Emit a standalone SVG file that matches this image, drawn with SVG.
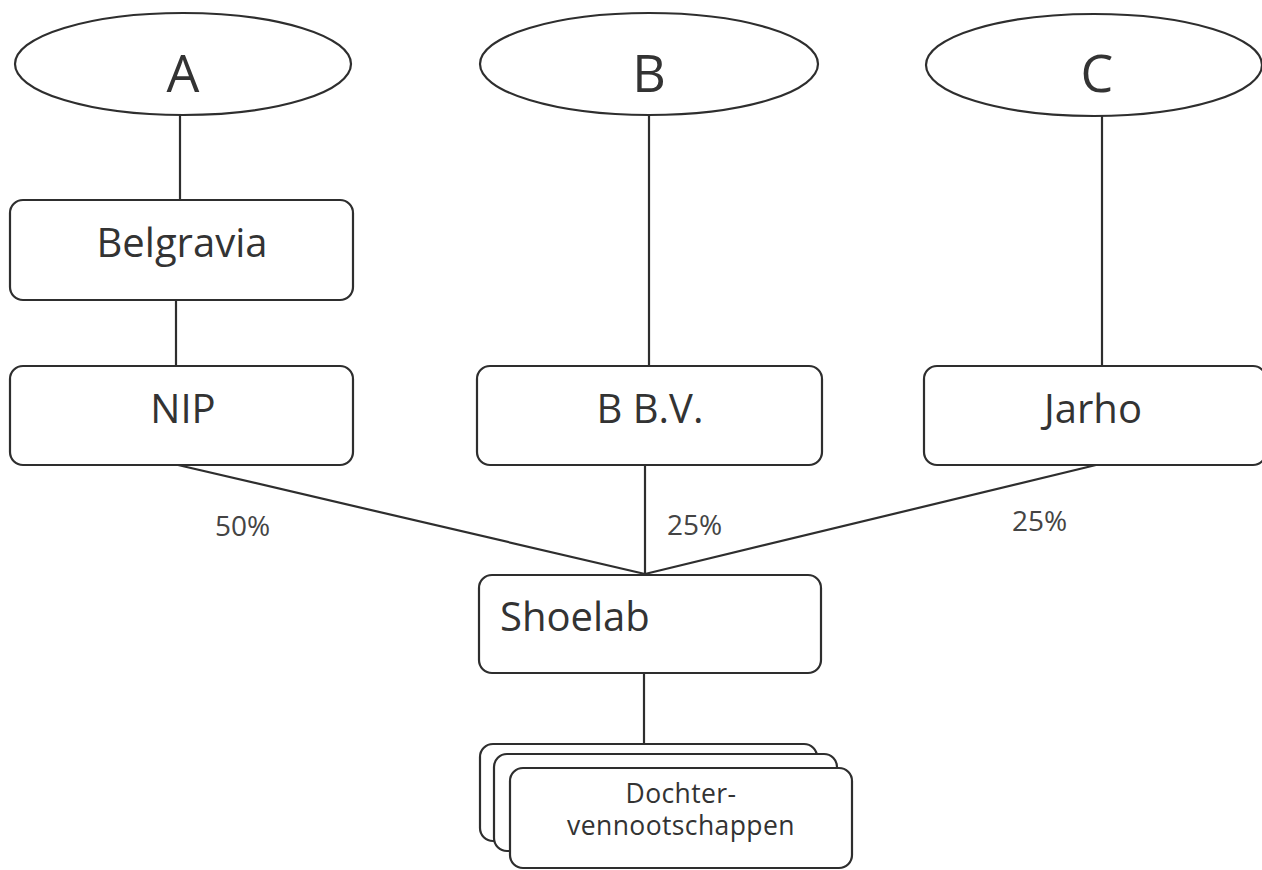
<svg xmlns="http://www.w3.org/2000/svg" width="1262" height="870" viewBox="0 0 1262 870">
<style>
.shape{fill:#fff;stroke:#2e2e2e;stroke-width:2.2}
.conn line{stroke:#2e2e2e;stroke-width:2.2}
text{font-family:"Open Sans","Liberation Sans",sans-serif;fill:#333}
.big{font-size:52px;text-anchor:middle}
.lbl{font-size:40px;text-anchor:middle}
.left{text-anchor:start}
.pct{font-size:28px;fill:#444}
.small{font-size:26.5px;text-anchor:middle;letter-spacing:0.4px}
</style>
<rect width="1262" height="870" fill="#fff"/>
<g class="conn">
<line x1="180" y1="115" x2="180" y2="200"/>
<line x1="176" y1="300" x2="176" y2="366"/>
<line x1="649" y1="115" x2="649" y2="366"/>
<line x1="1102" y1="116" x2="1102" y2="366"/>
<line x1="178" y1="465" x2="645" y2="574"/>
<line x1="645" y1="465" x2="645" y2="574"/>
<line x1="1096" y1="465" x2="645" y2="574"/>
<line x1="644" y1="673" x2="644" y2="744"/>
</g>
<g id="nodeA"><ellipse class="shape" cx="183" cy="64" rx="168" ry="51"/><text class="big" x="183" y="92">A</text></g>
<g id="nodeB"><ellipse class="shape" cx="649" cy="64" rx="169" ry="51"/><text class="big" x="649" y="92">B</text></g>
<g id="nodeC"><ellipse class="shape" cx="1094" cy="65" rx="168" ry="51"/><text class="big" x="1097" y="92">C</text></g>
<g id="belgravia"><rect class="shape" x="10" y="200" width="343" height="100" rx="13"/><text class="lbl" x="182" y="257">Belgravia</text></g>
<g id="nip"><rect class="shape" x="10" y="366" width="343" height="99" rx="13"/><text class="lbl" x="183" y="423">NIP</text></g>
<g id="bbv"><rect class="shape" x="477" y="366" width="345" height="99" rx="13"/><text class="lbl" x="650" y="423">B B.V.</text></g>
<g id="jarho"><rect class="shape" x="924" y="366" width="342" height="99" rx="13"/><text class="lbl" x="1093" y="423">Jarho</text></g>
<g id="labels">
<text class="pct" x="215" y="536">50%</text>
<text class="pct" x="667" y="535">25%</text>
<text class="pct" x="1012" y="531">25%</text>
</g>
<g id="shoelab"><rect class="shape" x="479" y="575" width="342" height="98" rx="13"/><text class="lbl left" x="500" y="631">Shoelab</text></g>
<g id="dochter">
<rect class="shape" x="480" y="744" width="337" height="97" rx="13"/>
<rect class="shape" x="494" y="754" width="343" height="97" rx="13"/>
<rect class="shape" x="510" y="768" width="342" height="100" rx="13"/>
<text class="small" x="681" y="803">Dochter-</text>
<text class="small" x="681" y="835">vennootschappen</text>
</g>
</svg>
